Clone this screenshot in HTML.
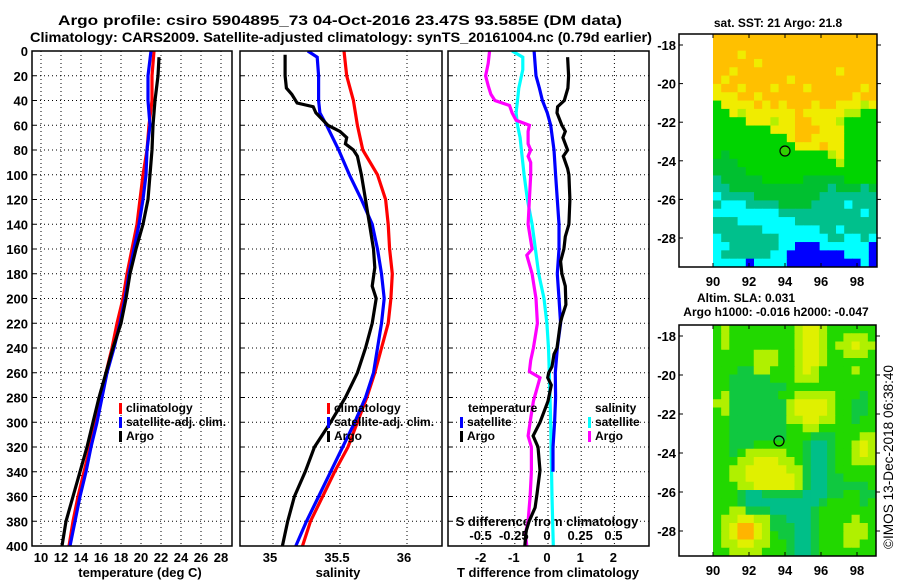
<!DOCTYPE html>
<html><head><meta charset="utf-8"><style>
body{margin:0;background:#fff;}
svg{display:block;font-family:"Liberation Sans",Arial,sans-serif;font-weight:bold;}
</style></head><body>
<svg id="c" width="900" height="580" viewBox="0 0 900 580" xmlns="http://www.w3.org/2000/svg">
<text x="340" y="25" text-anchor="middle" font-size="14" textLength="564" lengthAdjust="spacingAndGlyphs">Argo profile: csiro 5904895_73 04-Oct-2016 23.47S 93.585E (DM data)</text>
<text x="341" y="42" text-anchor="middle" font-size="14" textLength="622" lengthAdjust="spacingAndGlyphs">Climatology: CARS2009. Satellite-adjusted climatology: synTS_20161004.nc (0.79d earlier)</text>
<text x="140" y="577" text-anchor="middle" font-size="13">temperature (deg C)</text>
<text x="338" y="577" text-anchor="middle" font-size="13">salinity</text>
<text x="548" y="577" text-anchor="middle" font-size="13">T difference from climatology</text>
<text x="547" y="526" text-anchor="middle" font-size="13">S difference from climatology</text>
<text x="778" y="27" text-anchor="middle" font-size="12">sat. SST: 21 Argo: 21.8</text>
<text x="746" y="302" text-anchor="middle" font-size="12">Altim. SLA: 0.031</text>
<text x="776" y="316" text-anchor="middle" font-size="12">Argo h1000: -0.016 h2000: -0.047</text>
<text x="0" y="0" transform="translate(893,549) rotate(-90)" font-size="13.5" font-weight="normal" textLength="184" lengthAdjust="spacingAndGlyphs">©IMOS 13-Dec-2018 06:38:40</text>
</svg>
<script>
// depth-profile data
const stdDepth=[0,20,40,60,80,100,120,140,160,180,200,220,240,260,280,300,320,340,360,380,400];
const climTemp=[21.3,21.1,21.1,20.8,20.6,20.2,19.9,19.6,19.1,18.6,18.2,17.6,17.1,16.5,16.0,15.5,14.9,14.3,13.7,13.2,12.8];
const satTemp=[21.0,20.7,20.7,20.9,20.6,20.5,20.2,19.8,19.3,18.8,18.4,17.9,17.3,16.6,16.1,15.6,15.0,14.5,13.9,13.4,12.9];
const argoTempDepth=[5,20,40,60,80,100,120,140,160,180,200,220,240,260,280,300,320,340,360,380,400];
const argoTemp=[21.8,21.7,21.4,21.2,21.1,20.9,20.7,20.2,19.5,18.9,18.5,18.0,17.2,16.5,15.8,15.2,14.6,13.9,13.2,12.5,12.1];
const climSal=[35.53,35.55,35.60,35.63,35.67,35.78,35.84,35.86,35.87,35.89,35.88,35.86,35.81,35.76,35.70,35.63,35.56,35.46,35.37,35.28,35.22];
const satSalDepth=[0,5,20,40,50,60,80,100,120,140,160,180,200,220,240,260,280,300,320,340,360,380,400];
const satSal=[35.26,35.33,35.34,35.34,35.35,35.40,35.49,35.57,35.66,35.74,35.78,35.81,35.83,35.81,35.78,35.75,35.69,35.61,35.52,35.43,35.34,35.25,35.17];
const argoSalDepth=[3,20,30,35,42,45,50,60,65,70,75,80,85,100,120,140,160,175,190,200,220,240,260,280,300,320,340,360,380,400];
const argoSal=[35.09,35.09,35.10,35.14,35.18,35.30,35.32,35.41,35.50,35.55,35.54,35.60,35.63,35.66,35.69,35.72,35.75,35.76,35.74,35.77,35.74,35.69,35.63,35.54,35.43,35.31,35.24,35.16,35.11,35.07];
const argoTdDepth=[5,20,30,40,45,50,60,65,70,80,85,95,100,120,140,150,160,170,180,190,205,215,220,240,245,255,260,264,270,283,300,311,320,339,358,369,380,388,400];
const argoTd=[0.59,0.62,0.60,0.49,0.29,0.27,0.42,0.52,0.45,0.59,0.46,0.59,0.63,0.66,0.63,0.52,0.48,0.38,0.42,0.52,0.54,0.42,0.37,0.27,0.18,0.12,0.02,-0.01,0.10,0.0,-0.24,-0.45,-0.30,-0.24,-0.33,-0.39,-0.57,-0.66,-0.70];
const satTdDepth=[0,20,30,40,50,60,80,100,120,140,160,180,200,220,240,260,280,300,320,340];
const satTd=[-0.42,-0.36,-0.26,-0.17,-0.02,0.08,0.18,0.23,0.28,0.33,0.33,0.28,0.33,0.38,0.28,0.22,0.23,0.2,0.15,0.15];
const satSdDepth=[0,5,15,30,40,50,60,70,80,100,120,140,160,180,200,220,240,260,300,360,400];
const satSd=[-0.27,-0.19,-0.19,-0.22,-0.23,-0.24,-0.23,-0.21,-0.20,-0.18,-0.155,-0.12,-0.095,-0.07,-0.03,-0.008,0.004,0.01,0.02,0.03,0.04];
const argoSdDepth=[0,10,20,28,35,40,44,50,56,60,65,75,80,85,90,100,120,140,160,165,180,200,220,240,250,259,264,283,300,311,320,340,360,380,390,400];
const argoSd=[-0.44,-0.45,-0.47,-0.45,-0.43,-0.40,-0.29,-0.27,-0.24,-0.14,-0.15,-0.15,-0.13,-0.15,-0.13,-0.13,-0.14,-0.15,-0.12,-0.16,-0.12,-0.09,-0.08,-0.11,-0.13,-0.14,-0.06,-0.11,-0.135,-0.15,-0.125,-0.125,-0.135,-0.15,-0.17,-0.16];
const depthTicks=[0,20,40,60,80,100,120,140,160,180,200,220,240,260,280,300,320,340,360,380,400];
const tempTicks=[10,12,14,16,18,20,22,24,26,28];
const salTicks=[35,35.5,36];
const tdTicks=[-2,-1,0,1,2];
const sdTicks=[-0.5,-0.25,0,0.25,0.5];
const sdTickLabels=["-0.5","-0.25","0","0.25","0.5"];
// map data
const sstLatTicks=[-18,-20,-22,-24,-26,-28];
const lonTicks=[90,92,94,96,98];
const sstGrid=[
"OOOOOOOOOOOOOOOOOOOO","OOOOOOOOOOOOOOOOOOOO","OOOYOOOOOOOOOOOOOOOO","OOOOOYOOOOOOOOOOOOOO",
"OOYOOOOOOOOOOOOYOOOO","OYOOOOOOOYOOOOOOOOOO","YOOYOOOYOOOYOOOOOOYO","YYYOOYOOOOOOOOOOOYOO",
"GYYYYOYOYOOOYOOYYYLY","GGYLYYYYYYOYYYYYLLGG","GGGGYYYLYYOOYYYLGGGG","GGGGGGGYYYOOOYYYGGGG",
"GGGGGGGGGYOOYYYYGGGG","GGGGGGGGGGYYYOYYGGGG","GgGGGGGGGGGGGGLYGGGG","gggGGGGGGGGGGGGLGGGG",
"ggggGGGGGGGGGGGGGGGG","TgggggGGGGGgggggGGGG","TTggggggggggggTgggTg","CTTTTggggggggTTTTTTT",
"TCCCTTTTggggTTTTCTTT","CCCCCCCCTTTTTTTTTTCT","TTTCCCCCCCTTTTTTTTTT","TTTTTTCCCCCCCTTCTTTT",
"CTTTTTTTCCCCCCTTCCTC","CCTTTTTTCCBBBCCCCCCB","CTTTTTTCCBBBBBBBCCCB","CCCCBCCCCBBBBBBBBBCB"];
const slaGrid=[
"GLGGGGGGGGLYYLGGGGGG","GLGGGGGGGGLYYLGGLLLG","GLGGGGGGGGLYYLGLLYLL","GGGGGLLLGGLYYLGGLLLG",
"GGGGGLLLGGLYYLGGGGGG","GGGggLLGGGLYLGGGGLGG","GGgggggGGGLLLGGGGGGG","GGgggggggGGGGGGGGGGG",
"GLggggggGGLLLLLGGGgG","LLgggggggLYYYYLGGggG","GLgggggggLYYYYLGGggG","GGgggggggLLYYLLGGgGG",
"GGgggggggGGLLGGGGGGG","GGgggggggGGGgggGGGLL","GGgggGGGGGGgTTgGGLYL","GGgGLLLLLGGgTTgGGLYL",
"GGGLLYYYLLGgTTgGGLLL","GGLLYYYYYLLgTTgGGGGG","GGLLYYYYYYLgTTggGGGG","GGGLLYYYYYLgTTgggggG",
"GGGgTTgggggTTTggGGgg","GGGgTTTTTTTTTgGGGGgG","GGLLgggTTTTTgGGGGGGG","GLLYYLLggTTTgGGGGLGG",
"GLYOOYLgggTTgGGGLLLG","GLYOOYLGggTTgGGGLLLG","GLLYYLLGGgTTgGGGLLGG","GGLLLLGGGgTTgGGGGGGG"];

const NS="http://www.w3.org/2000/svg";
const svg=document.getElementById('c');
function mk(tag,attrs,parent){const e=document.createElementNS(NS,tag);for(const k in attrs)e.setAttribute(k,attrs[k]);(parent||svg).appendChild(e);return e;}
const yD=d=>51+d*1.2375;
const xT=t=>41+(t-10)*10;
const xS=s=>273+(s-35)*134;
const xTd=v=>548+v*33.2;
const xSd=v=>548+v*132.8;
const P=[{x0:32,x1:232,n:'temperature'},{x0:240,x1:442,n:'salinity'},{x0:448,x1:649,n:'difference'}];
const Y0=51,Y1=546;
const defs=mk('defs',{});
P.forEach((p,i)=>{const cp=mk('clipPath',{id:'cp'+i},defs);mk('rect',{x:p.x0,y:Y0,width:p.x1-p.x0,height:Y1-Y0},cp);});
function grid(i,xs){const p=P[i];
 depthTicks.forEach(d=>{if(d>0&&d<400){const l=mk('line',{x1:p.x0,x2:p.x1,y1:yD(d),y2:yD(d),stroke:'#000','stroke-width':1,'stroke-dasharray':'1,3'});
 
 }
 const t=mk('line',{x1:p.x0,x2:p.x0+4,y1:yD(d),y2:yD(d),stroke:'#000'});
 
 });
 xs.forEach(x=>{const l=mk('line',{x1:x,x2:x,y1:Y0,y2:Y1,stroke:'#000','stroke-width':1,'stroke-dasharray':'1,3'});
 
 });
}
grid(0,tempTicks.map(xT));grid(1,salTicks.map(xS));grid(2,tdTicks.map(xTd));
function line(i,depths,vals,fx,color,name){
 const pts=depths.map((d,k)=>fx(vals[k]).toFixed(1)+','+yD(d).toFixed(1)).join(' ');
 const pl=mk('polyline',{points:pts,fill:'none',stroke:color,'stroke-width':3.2,'clip-path':'url(#cp'+i+')'});
 
 
}
line(0,stdDepth,climTemp,xT,'#ff0000','climatology-temperature-line');
line(0,stdDepth,satTemp,xT,'#0000ff','satellite-temperature-line');
line(0,argoTempDepth,argoTemp,xT,'#000','argo-temperature-line');
line(1,stdDepth,climSal,xS,'#ff0000','climatology-salinity-line');
line(1,satSalDepth,satSal,xS,'#0000ff','satellite-salinity-line');
line(1,argoSalDepth,argoSal,xS,'#000','argo-salinity-line');
line(2,satSdDepth,satSd,xSd,'#00ffff','satellite-salinity-diff-line');
line(2,argoSdDepth,argoSd,xSd,'#ff00ff','argo-salinity-diff-line');
line(2,satTdDepth,satTd,xTd,'#0000ff','satellite-temperature-diff-line');
line(2,argoTdDepth,argoTd,xTd,'#000','argo-temperature-diff-line');
P.forEach(p=>{const r=mk('rect',{x:p.x0,y:Y0,width:p.x1-p.x0,height:Y1-Y0,fill:'none',stroke:'#000','stroke-width':1.5});
 
 });
depthTicks.forEach(d=>{const t=mk('text',{x:28,y:yD(d)+5,'text-anchor':'end','font-size':13});t.textContent=d;
 
 });
function xl(vals,fx,labels,y,name,dx){vals.forEach((v,k)=>{const t=mk('text',{x:fx(v)+(dx||0),y:y,'text-anchor':'middle','font-size':13});t.textContent=labels?labels[k]:v;
 
 });}
xl(tempTicks,xT,null,562,'temperature-tick-label');
xl(salTicks,xS,null,562,'salinity-tick-label',-3);
xl(tdTicks,xTd,null,562,'t-diff-tick-label',-1);
xl(sdTicks,xSd,sdTickLabels,540,'s-diff-tick-label',-1);
function leg(x,y,color,label,name){
 const m=mk('rect',{x:x,y:y-9,width:3,height:11,fill:color});
 
 
 const t=mk('text',{x:x+7,y:y,'font-size':12});t.textContent=label;
 
 }
leg(119,412,'#ff0000','climatology','legend-climatology');
leg(119,426,'#0000ff','satellite-adj. clim.','legend-satellite-adj');
leg(119,440,'#000','Argo','legend-argo');
leg(327,412,'#ff0000','climatology','legend-sal-climatology');
leg(327,426,'#0000ff','satellite-adj. clim.','legend-sal-satellite-adj');
leg(327,440,'#000','Argo','legend-sal-argo');
{const t=mk('text',{x:468,y:412,'font-size':12});t.textContent='temperature';
 
 
 const s=mk('text',{x:595,y:412,'font-size':12});s.textContent='salinity';
 
 }
leg(460,426,'#0000ff','satellite','legend-t-satellite');
leg(460,440,'#000','Argo','legend-t-argo');
leg(588,426,'#00ffff','satellite','legend-s-satellite');
leg(588,440,'#ff00ff','Argo','legend-s-argo');
const cols={O:'#ffc000',Y:'#f0ec00',L:'#b4f000',G:'#00d400',g:'#00c030',T:'#00c08c',C:'#00ffff',B:'#0000ff'};
const colsB={O:'#ffb400',Y:'#e0f000',L:'#b0f000',G:'#22d800',g:'#10c840',T:'#00bf88'};
function map(grid,pal,bx0,bx1,by0,by1,dx0,latTop,ppd,latTicks,name,circ,fill){
 const nr=grid.length,nc=grid[0].length,cw=(bx1-dx0)/nc,ch=(by1-by0)/nr;
 grid.forEach((row,r)=>{for(let c=0;c<nc;c++){const cell=mk('rect',{x:(dx0+c*cw).toFixed(2),y:(by0+r*ch).toFixed(2),width:(cw+0.5).toFixed(2),height:(ch+0.5).toFixed(2),fill:pal[row[c]]||'#00d000'});
  
  }});
 const fr=mk('rect',{x:bx0,y:by0,width:bx1-bx0,height:by1-by0,fill:'none',stroke:'#000','stroke-width':1.5});
 
 
 const lonX=l=>dx0+(l-90)*18;
 lonTicks.forEach(l=>{const t=mk('text',{x:lonX(l),y:by1+19,'text-anchor':'middle','font-size':13});t.textContent=l;
  
  
  mk('line',{x1:lonX(l),x2:lonX(l),y1:by1,y2:by1-4,stroke:'#000'});mk('line',{x1:lonX(l),x2:lonX(l),y1:by0,y2:by0+4,stroke:'#000'});});
 latTicks.forEach(a=>{const y=by0+11+(latTop-a)*ppd;const t=mk('text',{x:bx0-3,y:y+5,'text-anchor':'end','font-size':13});t.textContent=a;
  
  
  mk('line',{x1:bx0,x2:bx0+4,y1:y,y2:y,stroke:'#000'});mk('line',{x1:bx1,x2:bx1+4,y1:y,y2:y,stroke:'#000'});});
 const ci=mk('circle',{cx:circ[0],cy:circ[1],r:5,fill:fill,stroke:'#000','stroke-width':1.2});
 
 
}
map(sstGrid,cols,679,877,34,267,713,-18,19.3,sstLatTicks,'sst-map',[785,151],'#30d000');
map(slaGrid,colsB,679,876,325,556,713,-18,19.5,sstLatTicks,'sla-map',[779,441],'none');
</script>
</body></html>
